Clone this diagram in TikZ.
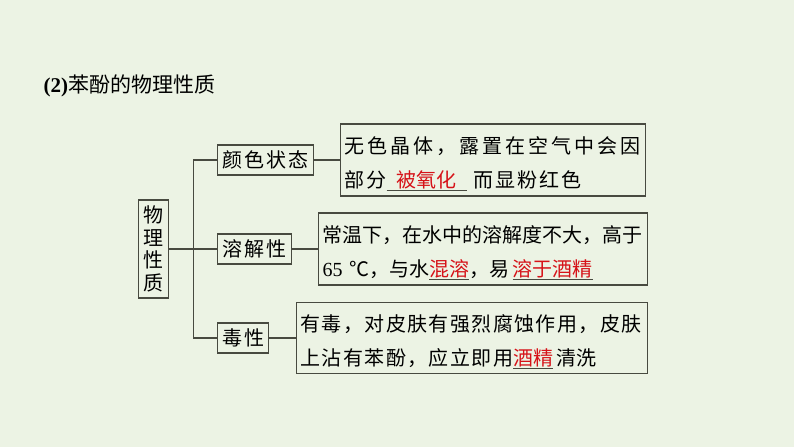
\documentclass[tikz,border=0pt]{standalone}
\usepackage{fontspec}
\setmainfont{Liberation Serif}
\newfontfamily\cjk{Noto Sans CJK SC}
\definecolor{bg}{RGB}{236,243,228}
\definecolor{frame}{RGB}{72,74,64}
\definecolor{answer}{RGB}{214,18,24}
\newcommand{\blank}[1]{\leavevmode\rlap{\textcolor{answer}{#1}}\textcolor{frame}{\underline{\phantom{#1}}}}
\newcommand{\topline}{\rule{0pt}{24pt}}

\begin{document}
\begin{tikzpicture}[x=1pt,y=1pt,
	box/.style={ draw=frame, line width=1.1pt, inner sep=2pt, anchor=west, font=\cjk\fontsize{20}{24}\selectfont },
	branch/.style={ box, minimum height=30pt, font=\cjk\fontsize{20}{24}\selectfont\addfontfeature{LetterSpace=10} },
	textbox/.style={ box, align=left, inner sep=4pt, minimum height=72pt, font=\cjk\fontsize{20}{34}\selectfont },
	link/.style={ draw=frame, line width=1.1pt }
]
\useasboundingbox[fill=bg] (0,0) rectangle (794,-447);

\node at (40,-86) (title) [anchor=west, font=\cjk\fontsize{21}{24}\selectfont] {{\rmfamily\bfseries (2)}苯酚的物理性质};

\node at (138,-249) (root) [box, align=center, minimum width=30pt, minimum height=98pt, font=\cjk\fontsize{20}{22.5}\selectfont] {物\\理\\性\\质};

\node at (217,-160) (colour) [branch, minimum width=96pt] {颜色状态};
\node at (217,-249) (solub) [branch, minimum width=74pt] {溶解性};
\node at (217,-338) (toxic) [branch, minimum width=51pt] {毒性};

\node at (340,-160) (colourtext) [textbox, text width=297pt] {\topline{\addfontfeature{LetterSpace=15}无色晶体，露置在空气中会因}\\{\addfontfeature{LetterSpace=10}部分}\blank{\ \,被氧化\ \,}\ {\addfontfeature{LetterSpace=10}而显粉红色}};
\node at (318,-249) (solubtext) [textbox, text width=321pt] {\topline 常温下，在水中的溶解度不大，高于\\{\rmfamily 65 }℃，与水\blank{混溶}，易\,\blank{溶于酒精}};
\node at (296,-338) (toxictext) [textbox, minimum height=71pt, text width=343pt] {\topline{\addfontfeature{LetterSpace=7}有毒，对皮肤有强烈腐蚀作用，皮肤}\\{\addfontfeature{LetterSpace=7}上沾有苯酚，应立即用}\blank{酒精}\,清洗};

\foreach \b in {colour,solub,toxic} \draw[link] (root.east) -- ++(24,0) |- (\b.west);
\draw[link] (colour) to (colourtext);
\draw[link] (solub) to (solubtext);
\draw[link] (toxic) to (toxictext);

\end{tikzpicture}
\end{document}
